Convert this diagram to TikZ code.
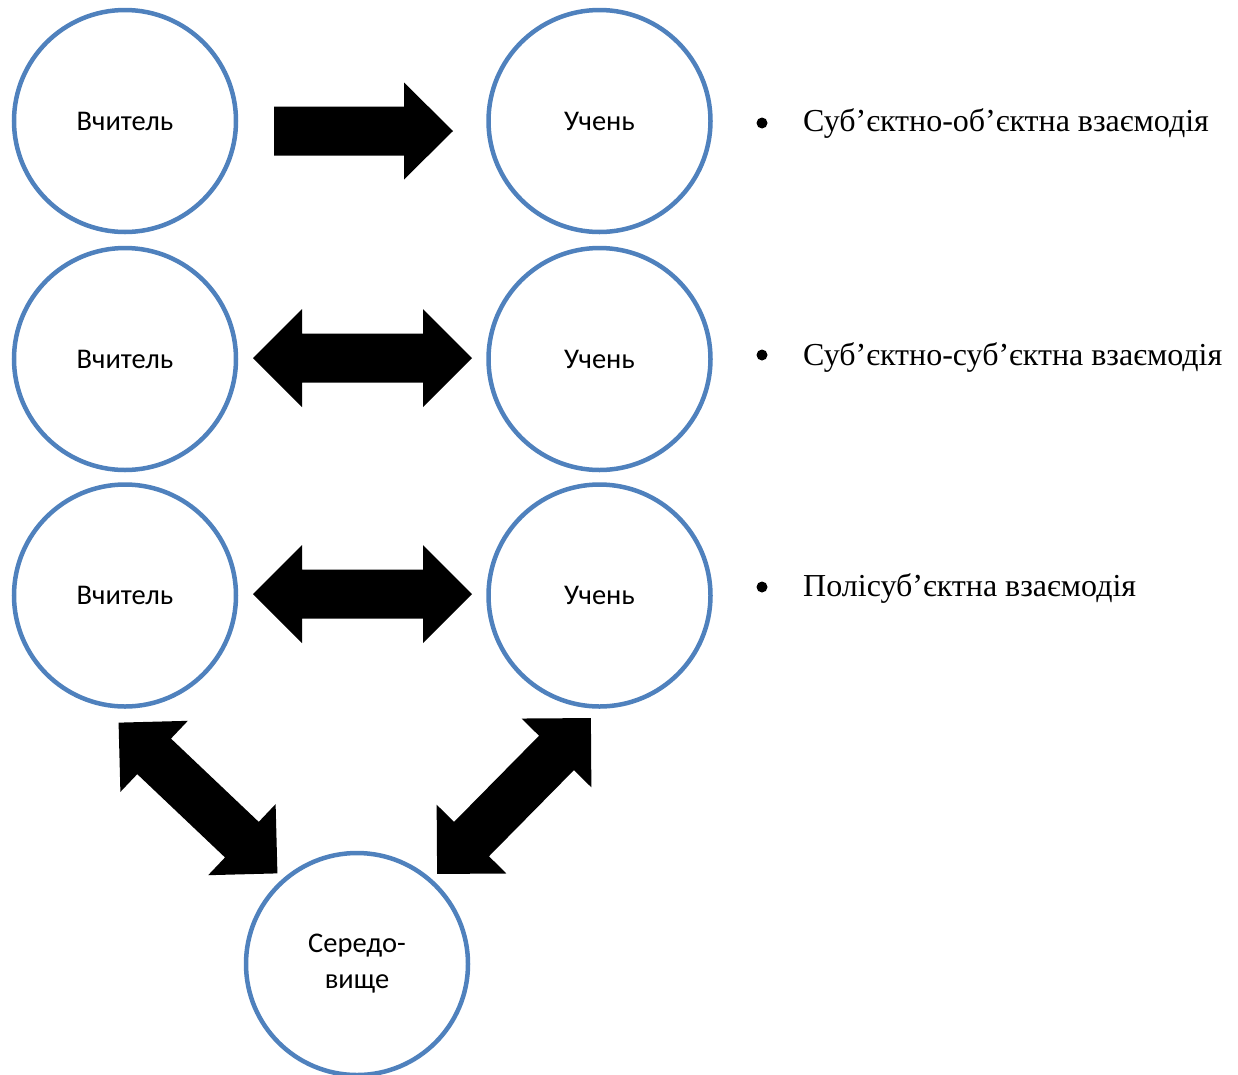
\documentclass[tikz,border=0pt]{standalone}
\usepackage{fontspec}
\setmainfont{Liberation Serif}
\newfontfamily\calib{Carlito}
\definecolor{ringblue}{HTML}{4F81BD}
\begin{document}
\begin{tikzpicture}[x=1pt,y=1pt,
  ring/.style={circle,draw=ringblue,line width=4.5pt,minimum size=222pt,inner sep=0pt,
    font=\calib\fontsize{28.5}{36}\selectfont,align=center,fill=white},
  label/.style={anchor=base west,font=\fontsize{32}{38}\selectfont,inner sep=0pt},
  dot/.style={circle,fill=black,minimum size=11pt,inner sep=0pt},
  dblarrow/.pic={\fill[black] (-109.5,0) -- (-60.5,49) -- (-60.5,24.5) -- (60.5,24.5) -- (60.5,49)
      -- (109.5,0) -- (60.5,-49) -- (60.5,-24.5) -- (-60.5,-24.5) -- (-60.5,-49) -- cycle;},
  onearrow/.pic={\fill[black] (-89.5,24.5) -- (40.5,24.5) -- (40.5,48.5) -- (89.5,0)
      -- (40.5,-48.5) -- (40.5,-24.5) -- (-89.5,-24.5) -- cycle;}
]
\useasboundingbox (0,0) rectangle (1238,-1074);

\node[ring] (t1) at (125,-121) {Вчитель};
\node[ring] (u1) at (599.5,-121) {Учень};
\node[ring] (t2) at (125,-359) {Вчитель};
\node[ring] (u2) at (599.5,-359) {Учень};
\node[ring] (t3) at (125,-595.5) {Вчитель};
\node[ring] (u3) at (599.5,-595.5) {Учень};
\node[ring] (s) at (357,-964) {Середо-\\вище};

\pic at (363.5,-131) {onearrow};
\pic at (362.5,-358) {dblarrow};
\pic at (362.5,-594) {dblarrow};
\pic[rotate=-43.5] at (198,-798) {dblarrow};
\pic[rotate=45.4] at (514,-796) {dblarrow};

\node[dot] (b1) at (762,-123) {};
\node[dot] (b2) at (762,-355) {};
\node[dot] (b3) at (762,-587) {};
\node[label] (l1) at (803,-131) {Суб’єктно-об’єктна взаємодія};
\node[label] (l2) at (803,-365) {Суб’єктно-суб’єктна взаємодія};
\node[label] (l3) at (803,-596) {Полісуб’єктна взаємодія};
\end{tikzpicture}
\end{document}
